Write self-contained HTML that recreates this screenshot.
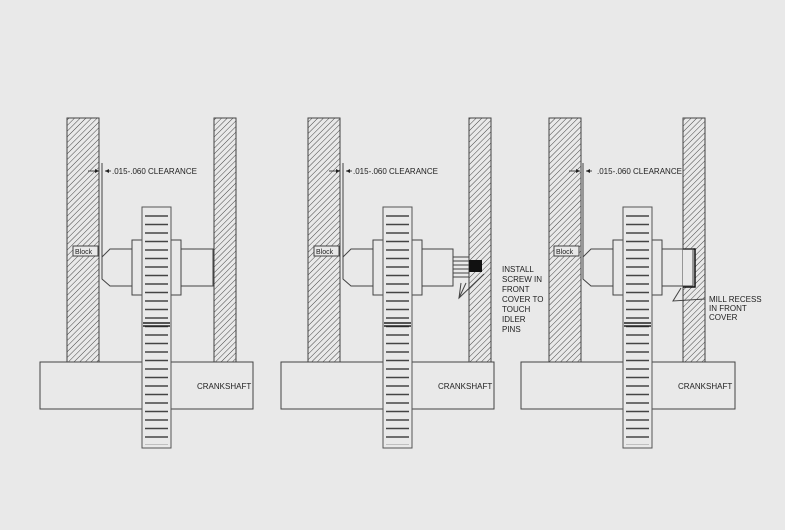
<!DOCTYPE html>
<html><head><meta charset="utf-8"><style>
html,body{margin:0;padding:0;background:#e9e9e9;}
svg{display:block;}
text{font-family:"Liberation Sans",sans-serif;font-size:8px;fill:#222;}
</style></head><body>
<svg width="785" height="530" viewBox="0 0 785 530" xmlns="http://www.w3.org/2000/svg">
<defs>
<pattern id="h" patternUnits="userSpaceOnUse" width="4" height="4" patternTransform="rotate(45)">
<rect width="4" height="4" fill="#e9e9e9"/>
<line x1="0" y1="0" x2="0" y2="4" stroke="#333" stroke-width="0.9"/>
</pattern>
<pattern id="t" patternUnits="userSpaceOnUse" x="0" y="212" width="10" height="8.5">
<line x1="0" y1="1" x2="10" y2="1" stroke="#444" stroke-width="1.5"/>
</pattern>
<g id="gear">
<rect x="0" y="0" width="29" height="241" fill="#e9e9e9" stroke="#555" stroke-width="1"/>
<rect x="3" y="4" width="23" height="234" fill="url(#t)"/>
<line x1="1" y1="116" x2="28" y2="116" stroke="#222" stroke-width="1.5"/>
<line x1="1" y1="119" x2="28" y2="119" stroke="#222" stroke-width="1.5"/>
</g>
</defs>
<g fill="none" stroke="#444" stroke-width="1">
<rect x="40" y="362" width="213" height="47" fill="#e9e9e9"/>
<rect x="67" y="118" width="32" height="244" fill="url(#h)"/>
<rect x="214" y="118" width="22" height="244" fill="url(#h)"/>
<polyline points="132,249 110,249 102,257 102,279 110,286 132,286"/>
<polyline points="181,249 213,249 213,286 181,286"/>
<rect x="132" y="240" width="49" height="55" fill="#e9e9e9"/>
<line x1="102" y1="163" x2="102" y2="257"/>
<rect x="73" y="246" width="25" height="10" fill="#e9e9e9"/>
<line x1="88" y1="171" x2="99" y2="171"/><line x1="105" y1="171" x2="111" y2="171"/>
</g>
<polygon points="99,171 95,169 95,173" fill="#222"/><polygon points="105,171 109,169 109,173" fill="#222"/>
<use href="#gear" x="142" y="207"/>
<text x="75" y="254" style="font-size:7px">Block</text>
<text x="112" y="174">.015-.060 CLEARANCE</text>
<text x="197" y="389">CRANKSHAFT</text>

<g fill="none" stroke="#444" stroke-width="1">
<rect x="281" y="362" width="213" height="47" fill="#e9e9e9"/>
<rect x="308" y="118" width="32" height="244" fill="url(#h)"/>
<rect x="469" y="118" width="22" height="244" fill="url(#h)"/>
<polyline points="373,249 351,249 343,257 343,279 351,286 373,286"/>
<polyline points="422,249 453,249 453,286 422,286"/>
<rect x="373" y="240" width="49" height="55" fill="#e9e9e9"/>
<line x1="343" y1="163" x2="343" y2="257"/>
<rect x="314" y="246" width="25" height="10" fill="#e9e9e9"/>
<line x1="329" y1="171" x2="340" y2="171"/><line x1="346" y1="171" x2="352" y2="171"/>
<rect x="453" y="257" width="16" height="20" fill="#e9e9e9"/>
<line x1="453" y1="261" x2="469" y2="261"/><line x1="453" y1="265" x2="469" y2="265"/><line x1="453" y1="269" x2="469" y2="269"/><line x1="453" y1="273" x2="469" y2="273"/>
<polyline points="461,283 459,298 484,274"/>
<line x1="466" y1="283" x2="459" y2="298"/>
</g>
<rect x="469" y="260" width="13" height="12" fill="#111"/>
<polygon points="340,171 336,169 336,173" fill="#222"/><polygon points="346,171 350,169 350,173" fill="#222"/>
<use href="#gear" x="383" y="207"/>
<text x="316" y="254" style="font-size:7px">Block</text>
<text x="353" y="174">.015-.060 CLEARANCE</text>
<text x="438" y="389">CRANKSHAFT</text>
<text x="502" y="272">INSTALL</text>
<text x="502" y="282">SCREW IN</text>
<text x="502" y="292">FRONT</text>
<text x="502" y="302">COVER TO</text>
<text x="502" y="312">TOUCH</text>
<text x="502" y="322">IDLER</text>
<text x="502" y="332">PINS</text>

<g fill="none" stroke="#444" stroke-width="1">
<rect x="521" y="362" width="214" height="47" fill="#e9e9e9"/>
<rect x="549" y="118" width="32" height="244" fill="url(#h)"/>
<rect x="683" y="118" width="22" height="244" fill="url(#h)"/>
<rect x="683" y="249" width="12" height="38" fill="#e9e9e9" stroke="none"/>
<polyline points="683,249 695,249 695,287 683,287" stroke="#111" stroke-width="1.5"/>
<polyline points="613,249 591,249 583,257 583,279 591,286 613,286"/>
<polyline points="662,249 693,249 693,286 662,286"/>
<rect x="613" y="240" width="49" height="55" fill="#e9e9e9"/>
<line x1="583" y1="163" x2="583" y2="257"/>
<rect x="554" y="246" width="25" height="10" fill="#e9e9e9"/>
<line x1="569" y1="171" x2="580" y2="171"/><line x1="586" y1="171" x2="592" y2="171"/>
<polyline points="681,288 673,301 705,299"/>
</g>
<polygon points="580,171 576,169 576,173" fill="#222"/><polygon points="586,171 590,169 590,173" fill="#222"/>
<use href="#gear" x="623" y="207"/>
<text x="556" y="254" style="font-size:7px">Block</text>
<text x="597" y="174">.015-.060 CLEARANCE</text>
<text x="678" y="389">CRANKSHAFT</text>
<text x="709" y="302">MILL RECESS</text>
<text x="709" y="311">IN FRONT</text>
<text x="709" y="320">COVER</text>
</svg>
</body></html>
